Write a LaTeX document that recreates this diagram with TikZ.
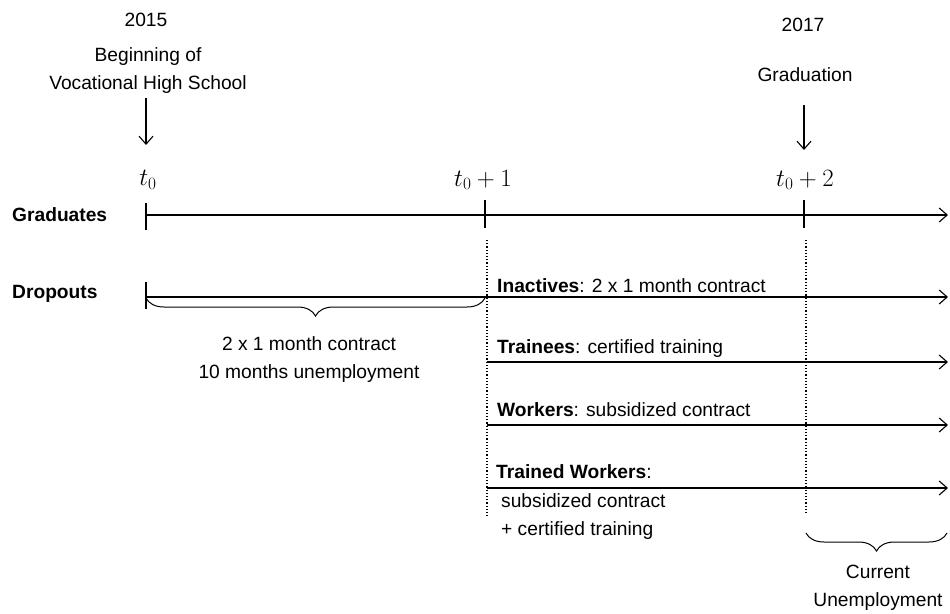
\documentclass[tikz,border=0pt]{standalone}
\usepackage{fontspec}
\setmainfont{Liberation Sans}
\usetikzlibrary{arrows.meta,decorations.pathreplacing,positioning}

\begin{document}
\begin{tikzpicture}[%
            x=1pt, y=-1pt,
            txt/.style={font=\fontsize{19.2}{28}\selectfont, inner sep=0pt, align=center},
            grp/.style={font=\fontsize{19.2}{28}\selectfont, inner sep=0pt, anchor=west},
            tlabel/.style={font=\fontsize{24}{26}\selectfont, inner sep=0pt},
            tline/.style={line width=1.1pt, -{Straight Barb[length=8pt,width=14pt]}},
            stroke/.style={line width=1.1pt},
            sep/.style={line width=1.2pt, dotted},
            brc/.style={decorate, decoration={brace, mirror, amplitude=18pt}, line width=1pt}
        ]
        \useasboundingbox (0,0) rectangle (950,613);

        % top labels
        \node (y15) at (146,20) [txt] {2015};
        \node (begin) at (148,71) [txt] {Beginning of\\Vocational High School};
        \node (y17) at (803,25) [txt] {2017};
        \node (grad) at (805,75) [txt] {Graduation};
        \node (t0) at (148,180) [tlabel] {$t_0$};
        \node (t1) at (483,180) [tlabel] {$t_0+1$};
        \node (t2) at (805,180) [tlabel] {$t_0+2$};
        \coordinate (a0) at (146,98);
        \coordinate (b0) at (146,145);
        \coordinate (a2) at (804,105);
        \coordinate (b2) at (804,150);
        \draw [tline] (a0) -- (b0);
        \draw [tline] (a2) -- (b2);

        % graduates
        \node (gr) at (12,215) [grp] {\textbf{Graduates}};
        \coordinate (g0) at (146,215);
        \coordinate (gend) at (948,215);
        \draw [tline] (g0) -- (gend);
        \draw [stroke] (146,203) -- (146,230)
                       (485,200) -- (485,228)
                       (804,200) -- (804,228);

        % dropouts
        \node (dr) at (12,294) [grp] {\textbf{Dropouts}};
        \coordinate (d0) at (146,297);
        \coordinate (d1) at (485,298);
        \coordinate (dend) at (948,297);
        \draw [stroke] (146,282) -- (146,309);
        \draw [tline] (d0) -- (dend);
        \draw [brc] ([yshift=-1pt]d0) -- (d1);
        \node (dtxt) at (309,360) [txt] {2 x 1 month contract\\10 months unemployment};

        % dotted separators
        \draw [sep] (487,240) -- (487,518);
        \draw [sep] (806,240) -- (806,515);

        % groups after one year
        \node (inact) at (497,286) [grp] {\textbf{Inactives}: 2 x 1 month contract};
        \coordinate (tr0) at (487,362);
        \coordinate (tr1) at (948,362);
        \draw [tline] (tr0) -- (tr1);
        \node (train) at (497,349) [grp] {\textbf{Trainees}: certified training};
        \coordinate (w0) at (487,425);
        \coordinate (w1) at (948,425);
        \draw [tline] (w0) -- (w1);
        \node (work) at (497,410) [grp] {\textbf{Workers}: subsidized contract};
        \coordinate (tw0) at (487,488);
        \coordinate (tw1) at (948,488);
        \draw [tline] (tw0) -- (tw1);
        \node (tw) at (496,472) [grp] {\textbf{Trained Workers}:};
        \node (twtxt) at (501,517) [grp, align=left] {subsidized contract\\+ certified training};

        % current unemployment
        \coordinate (u0) at (806,533);
        \coordinate (u1) at (947,533);
        \draw [brc] (u0) -- (u1);
        \node (cu) at (878,588) [txt] {Current\\Unemployment};
    \end{tikzpicture}
\end{document}
